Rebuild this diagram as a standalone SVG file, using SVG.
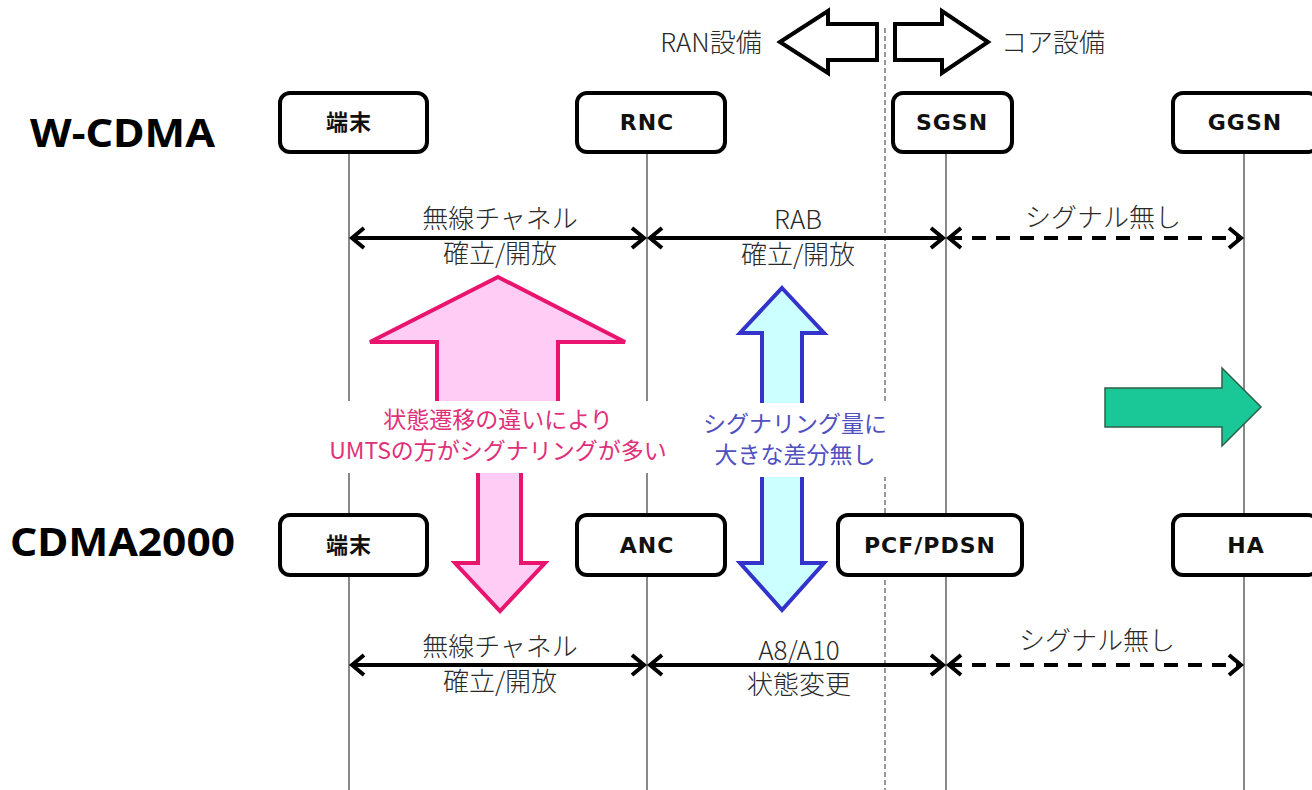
<svg xmlns="http://www.w3.org/2000/svg" width="1312" height="790" viewBox="0 0 1312 790">
<style>
.life{stroke:#3a3a3a;stroke-width:1.2;fill:none}
.box{fill:#fff;stroke:#000;stroke-width:4}
.nl{font-family:"DejaVu Sans","Noto Sans CJK JP",sans-serif;font-weight:bold;font-size:22px;letter-spacing:1px;text-anchor:middle;fill:#111}
.lbl{font-family:"Noto Sans CJK JP",sans-serif;font-weight:300;font-size:26px;text-anchor:middle;fill:#2a2a2a}
.big{font-family:"Noto Sans","Open Sans",sans-serif;font-weight:bold;font-size:40px;fill:#000}
.conn{stroke:#000;stroke-width:4;fill:none}
.dash{stroke-dasharray:14 10}
.hollow{fill:#fff;stroke:#000;stroke-width:4;stroke-linejoin:miter}
.pt{font-family:"Noto Sans CJK JP",sans-serif;font-size:23px;fill:#E0307A;text-anchor:middle}
.bt{font-family:"Noto Sans CJK JP",sans-serif;font-size:23px;fill:#5050C0;text-anchor:middle}
</style>
<defs>
<marker id="chev" markerUnits="userSpaceOnUse" viewBox="-16 -12 20 24" markerWidth="20" markerHeight="24" refX="0" refY="0" orient="auto-start-reverse" overflow="visible">
<path d="M-13,-10 L-1,0 L-13,10" fill="none" stroke="#000" stroke-width="4"/>
</marker>
</defs>
<rect width="1312" height="790" fill="#fff"/>

<g id="labels">
<text class="big" x="30" y="147" textLength="185" lengthAdjust="spacingAndGlyphs">W-CDMA</text>
<text class="big" x="10" y="556" textLength="225" lengthAdjust="spacingAndGlyphs">CDMA2000</text>
<text class="lbl" x="711" y="52" font-size="27">RAN設備</text>
<text class="lbl" x="1053" y="52" font-size="27">コア設備</text>
</g>

<g id="lifelines">
<line class="life" x1="349" y1="152" x2="349" y2="790"/>
<line class="life" x1="647" y1="152" x2="647" y2="790"/>
<line class="life" x1="946" y1="152" x2="946" y2="790"/>
<line class="life" x1="1244" y1="152" x2="1244" y2="790"/>
<line x1="885" y1="28" x2="885" y2="790" stroke="#555" stroke-width="1.2" stroke-dasharray="5 3"/>
</g>

<g id="ran-core-arrows">
<polygon class="hollow" points="780,42 828,11 828,24 877,24 877,60 828,60 828,73"/>
<polygon class="hollow" points="895,24 942,24 942,11 988,42 942,73 942,60 895,60"/>
</g>

<g id="node-w-term"><rect class="box" x="280" y="93" width="147" height="59" rx="10"/><text class="nl" x="349" y="130">端末</text></g>
<g id="node-rnc"><rect class="box" x="577" y="93" width="148" height="59" rx="10"/><text class="nl" x="647" y="130">RNC</text></g>
<g id="node-sgsn"><rect class="box" x="893" y="93" width="119" height="59" rx="10"/><text class="nl" x="952" y="130">SGSN</text></g>
<g id="node-ggsn"><rect class="box" x="1173" y="93" width="145" height="59" rx="10"/><text class="nl" x="1245" y="130">GGSN</text></g>

<g id="node-c-term"><rect class="box" x="280" y="515" width="147" height="60" rx="10"/><text class="nl" x="349" y="553">端末</text></g>
<g id="node-anc"><rect class="box" x="577" y="515" width="148" height="60" rx="10"/><text class="nl" x="647" y="553">ANC</text></g>
<g id="node-pcf"><rect class="box" x="838" y="515" width="184" height="60" rx="10"/><text class="nl" x="930" y="553">PCF/PDSN</text></g>
<g id="node-ha"><rect class="box" x="1173" y="515" width="145" height="60" rx="10"/><text class="nl" x="1246" y="553">HA</text></g>

<g id="connectors">
<line class="conn" x1="351" y1="238" x2="645" y2="238" marker-start="url(#chev)" marker-end="url(#chev)"/>
<line class="conn" x1="649" y1="238" x2="944" y2="238" marker-start="url(#chev)" marker-end="url(#chev)"/>
<line class="conn dash" x1="948" y1="238" x2="1242" y2="238" marker-start="url(#chev)" marker-end="url(#chev)"/>
<line class="conn" x1="351" y1="665" x2="645" y2="665" marker-start="url(#chev)" marker-end="url(#chev)"/>
<line class="conn" x1="649" y1="665" x2="944" y2="665" marker-start="url(#chev)" marker-end="url(#chev)"/>
<line class="conn dash" x1="948" y1="665" x2="1242" y2="665" marker-start="url(#chev)" marker-end="url(#chev)"/>
<text class="lbl" x="500" y="228">無線チャネル</text>
<text class="lbl" x="500" y="263">確立/開放</text>
<text class="lbl" x="798" y="229">RAB</text>
<text class="lbl" x="798" y="264">確立/開放</text>
<text class="lbl" x="1103" y="227">シグナル無し</text>
<text class="lbl" x="500" y="656">無線チャネル</text>
<text class="lbl" x="500" y="691">確立/開放</text>
<text class="lbl" x="799" y="660">A8/A10</text>
<text class="lbl" x="799" y="694">状態変更</text>
<text class="lbl" x="1097" y="650">シグナル無し</text>
</g>

<g id="pink-arrow">
<polygon points="498,277 625,342 558,342 558,440 437,440 437,342 370,342" fill="#FFCCF5" stroke="#E8146E" stroke-width="4"/>
<polygon points="478,440 521,440 521,563 545,563 500,611 455,563 478,563" fill="#FFCCF5" stroke="#E8146E" stroke-width="4"/>
<rect x="310" y="401" width="376" height="72" fill="#fff"/>
<text class="pt" x="498" y="428">状態遷移の違いにより</text>
<text class="pt" x="498" y="459">UMTSの方がシグナリングが多い</text>
</g>

<g id="blue-arrow">
<polygon points="782,288 824,333 802,333 802,563 824,563 782,610 740,563 762,563 762,333 740,333" fill="#CCFFFF" stroke="#3333CC" stroke-width="4"/>
<rect x="694" y="403" width="198" height="74" fill="#fff"/>
<text class="bt" x="795" y="432">シグナリング量に</text>
<text class="bt" x="795" y="463">大きな差分無し</text>
</g>

<g id="green-arrow">
<polygon points="1105,388 1222,388 1222,368 1261,407 1222,446 1222,427 1105,427" fill="#19C896" stroke="#2F5F4A" stroke-width="1.5"/>
</g>
</svg>
